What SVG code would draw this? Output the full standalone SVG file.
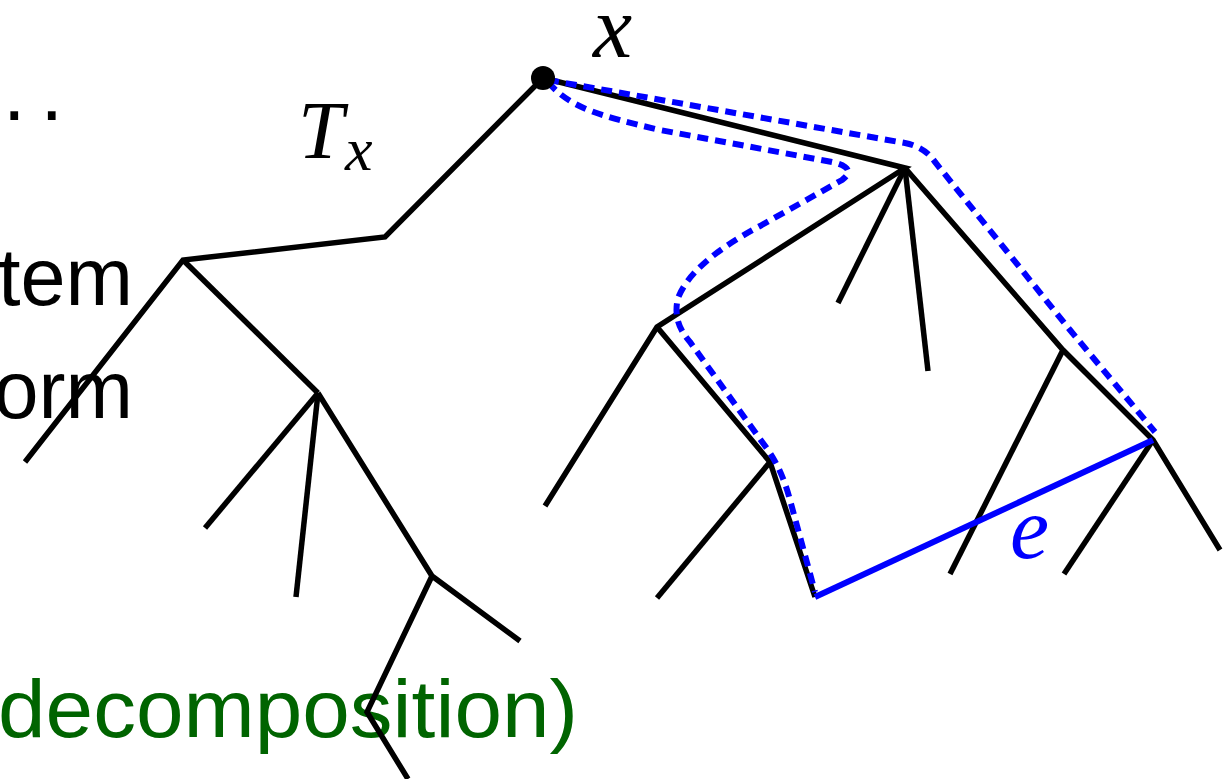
<svg xmlns="http://www.w3.org/2000/svg" width="1230" height="779" viewBox="0 0 1230 779">
<style>
.bg{fill:#fff}
.edge{stroke:#000;stroke-width:5.5;fill:none;stroke-linecap:butt;stroke-linejoin:miter}
.path{stroke:#0000ff;stroke-width:6;fill:none;stroke-dasharray:11 7}
.blue{stroke:#0000ff;stroke-width:6;fill:none}
.txt{font-family:"Liberation Sans",Arial,sans-serif;font-size:81px;fill:#000}
.green{fill:#006400}
.math{font-family:"Liberation Serif","Times New Roman",serif;font-style:italic}
</style>
<rect class="bg" x="0" y="0" width="1230" height="779"/>
<g id="background-text">
<text class="txt" x="3" y="120" font-size="120" letter-spacing="15">..</text>
<text class="txt" x="133" y="305" text-anchor="end">tem</text>
<text class="txt" x="133" y="418" text-anchor="end">orm</text>
<text class="txt green" x="-2" y="737" textLength="580" lengthAdjust="spacingAndGlyphs">decomposition)</text>
</g>
<g id="connectors">
<polyline class="edge" points="543,78 385,237 183,260 25,462"/>
<line class="edge" x1="183" y1="260" x2="318" y2="393"/>
<line class="edge" x1="318" y1="393" x2="205" y2="528"/>
<line class="edge" x1="318" y1="393" x2="296" y2="597"/>
<polyline class="edge" points="318,393 432,576 520,641"/>
<polyline class="edge" points="432,576 367,712 408,779"/>
<polyline class="edge" points="543,78 905,168 657,327 545,506"/>
<line class="edge" x1="905" y1="168" x2="838" y2="303"/>
<line class="edge" x1="905" y1="168" x2="928" y2="371"/>
<polyline class="edge" points="905,168 1063,350 1153,440 1220,550"/>
<polyline class="edge" points="657,327 770,462 815,597"/>
<line class="edge" x1="770" y1="462" x2="657" y2="598"/>
<line class="edge" x1="1063" y1="350" x2="950" y2="574"/>
<line class="edge" x1="1153" y1="440" x2="1064" y2="574"/>
<line id="edge-e" class="blue" x1="815" y1="597" x2="1153" y2="440"/>
<path class="path" d="M548,80 L905,143 Q925,147 935,162 L1070,330 L1155,432"/>
<path class="path" d="M548,82 C570,108 600,116 660,130 L832,162 Q858,168 842,180 L760,226 Q692,262 678,298 Q672,322 690,342 L768,450 Q782,470 790,500 L815,592"/>
</g>
<g id="node-x">
<circle cx="543" cy="78" r="12" fill="#000"/>
<text class="math" x="593" y="57" font-size="88">x</text>
</g>
<g id="label-Tx">
<text class="math" x="298" y="158" font-size="82">T</text>
<text class="math" x="345" y="170" font-size="62">x</text>
</g>
<g id="label-e">
<text class="math" x="1010" y="558" font-size="88" fill="#0000ff">e</text>
</g>
</svg>
